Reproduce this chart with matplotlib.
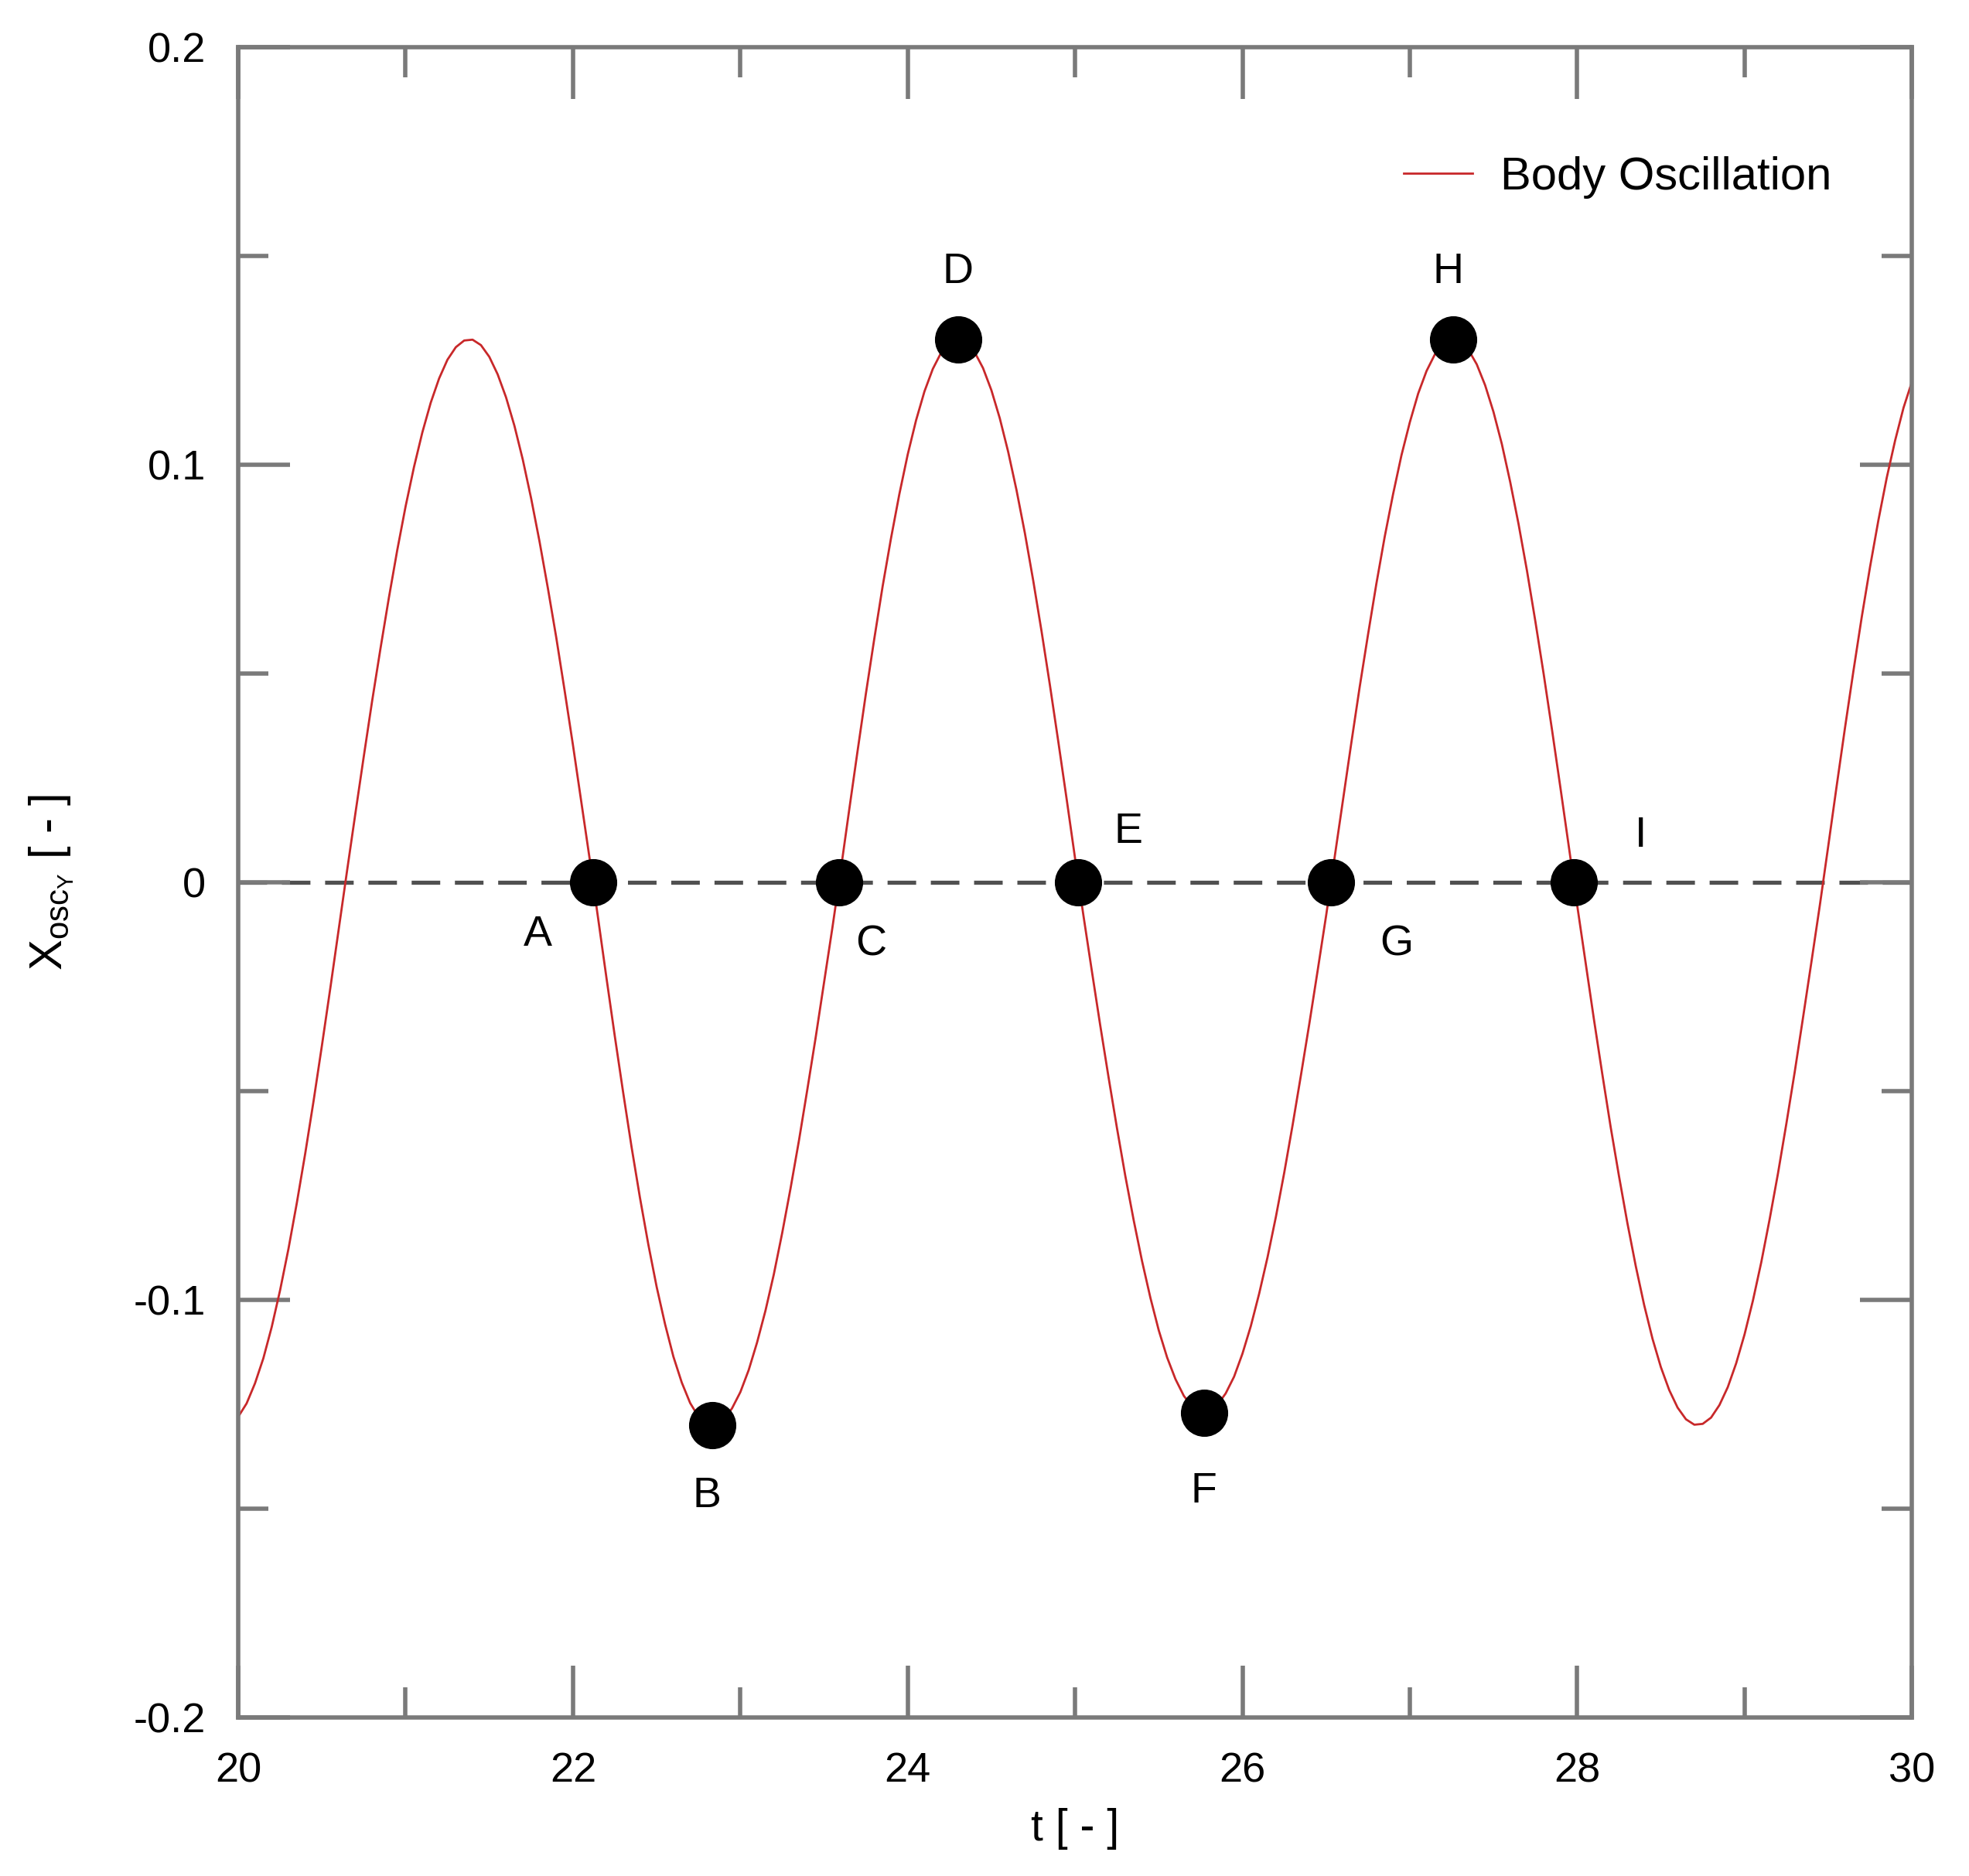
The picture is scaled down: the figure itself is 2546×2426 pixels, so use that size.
import numpy as np
import matplotlib
matplotlib.use("Agg")
import matplotlib.pyplot as plt
from matplotlib.ticker import MultipleLocator, FixedLocator, FixedFormatter

plt.rcParams['font.family'] = ['Liberation Sans', 'DejaVu Sans']
plt.rcParams['mathtext.fontset'] = 'custom'
plt.rcParams['mathtext.rm'] = 'Liberation Sans'
plt.rcParams['mathtext.it'] = 'Liberation Sans'

# sampled time (every 0.05)
t = np.linspace(20.0, 30.0, 201)
# body oscillation values
x_osc = [
    -0.1280, -0.1248, -0.1200, -0.1140, -0.1065, -0.0977, -0.0878, -0.0768, -0.0650, -0.0524,
    -0.0391, -0.0254, -0.0113, 0.0027, 0.0165, 0.0301, 0.0434, 0.0560, 0.0681, 0.0795,
    0.0900, 0.0994, 0.1077, 0.1148, 0.1206, 0.1251, 0.1281, 0.1297, 0.1299, 0.1286,
    0.1258, 0.1216, 0.1161, 0.1093, 0.1012, 0.0919, 0.0816, 0.0704, 0.0586, 0.0459,
    0.0328, 0.0192, 0.0055, -0.0086, -0.0229, -0.0369, -0.0504, -0.0634, -0.0755, -0.0867,
    -0.0969, -0.1058, -0.1136, -0.1198, -0.1247, -0.1280, -0.1297, -0.1299, -0.1287, -0.1260,
    -0.1221, -0.1168, -0.1102, -0.1026, -0.0939, -0.0840, -0.0733, -0.0619, -0.0497, -0.0372,
    -0.0241, -0.0109, 0.0029, 0.0172, 0.0313, 0.0451, 0.0582, 0.0708, 0.0823, 0.0929,
    0.1024, 0.1106, 0.1175, 0.1229, 0.1268, 0.1292, 0.1300, 0.1292, 0.1269, 0.1231,
    0.1178, 0.1111, 0.1031, 0.0939, 0.0836, 0.0722, 0.0600, 0.0471, 0.0336, 0.0198,
    0.0057, -0.0080, -0.0212, -0.0342, -0.0467, -0.0588, -0.0703, -0.0809, -0.0907, -0.0995,
    -0.1073, -0.1138, -0.1190, -0.1230, -0.1256, -0.1269, -0.1267, -0.1252, -0.1224, -0.1184,
    -0.1129, -0.1063, -0.0985, -0.0898, -0.0801, -0.0695, -0.0581, -0.0461, -0.0338, -0.0210,
    -0.0080, 0.0057, 0.0195, 0.0332, 0.0466, 0.0592, 0.0714, 0.0827, 0.0929, 0.1022,
    0.1101, 0.1170, 0.1224, 0.1264, 0.1289, 0.1300, 0.1295, 0.1275, 0.1240, 0.1190,
    0.1126, 0.1049, 0.0958, 0.0857, 0.0746, 0.0625, 0.0498, 0.0364, 0.0226, 0.0085,
    -0.0055, -0.0192, -0.0328, -0.0459, -0.0586, -0.0704, -0.0816, -0.0919, -0.1012, -0.1093,
    -0.1161, -0.1216, -0.1258, -0.1286, -0.1299, -0.1297, -0.1282, -0.1252, -0.1209, -0.1152,
    -0.1083, -0.1002, -0.0910, -0.0807, -0.0697, -0.0578, -0.0454, -0.0323, -0.0190, -0.0055,
    0.0086, 0.0229, 0.0369, 0.0504, 0.0634, 0.0755, 0.0867, 0.0969, 0.1058, 0.1136,
    0.1198,
]

# marked points
pt_names = ['A', 'B', 'C', 'D', 'E', 'F', 'G', 'H', 'I']
pt_t = [22.12, 22.83, 23.59, 24.30, 25.02, 25.77, 26.53, 27.26, 27.98]
pt_x = [0.0, -0.130, 0.0, 0.130, 0.0, -0.127, 0.0, 0.130, 0.0]
# label anchor positions (data coords)
lab_t = [21.79, 22.80, 23.78, 24.30, 25.32, 25.77, 26.92, 27.23, 28.38]
lab_x = [-0.0127, -0.147, -0.015, 0.146, 0.012, -0.146, -0.015, 0.146, 0.011]

x_ticks = [20, 22, 24, 26, 28, 30]
x_ticklabels = ['20', '22', '24', '26', '28', '30']
y_ticks = [-0.2, -0.1, 0.0, 0.1, 0.2]
y_ticklabels = ['-0.2', '-0.1', '0', '0.1', '0.2']

fig = plt.figure(figsize=(25.46, 24.26), dpi=100)
ax = fig.add_axes([0.121, 0.0845, 0.850, 0.8905])

ax.axhline(0.0, color='#505050', lw=3.8, dashes=(7, 3.6), zorder=1)
ax.plot(t, x_osc, color='#c8282a', lw=2.0, label='Body Oscillation', zorder=2)
ax.plot(pt_t, pt_x, 'o', color='black', ms=43, zorder=3)
for n, lt, lx in zip(pt_names, lab_t, lab_x):
    ax.text(lt, lx, n, fontsize=40, ha='center', va='center', zorder=4)

ax.set_xlim(20, 30)
ax.set_ylim(-0.2, 0.2)
ax.xaxis.set_major_locator(FixedLocator(x_ticks))
ax.xaxis.set_major_formatter(FixedFormatter(x_ticklabels))
ax.xaxis.set_minor_locator(MultipleLocator(1))
ax.yaxis.set_major_locator(FixedLocator(y_ticks))
ax.yaxis.set_major_formatter(FixedFormatter(y_ticklabels))
ax.yaxis.set_minor_locator(MultipleLocator(0.05))

spine_col = '#7a7a7a'
for s in ax.spines.values():
    s.set_color(spine_col)
    s.set_linewidth(4.0)
ax.tick_params(which='both', direction='in', top=True, right=True,
               color=spine_col, width=4.0, labelsize=39)
ax.tick_params(which='major', length=48)
ax.tick_params(axis='x', which='major', pad=32)
ax.tick_params(axis='y', which='major', pad=30)
ax.tick_params(which='minor', length=28)

ax.set_xlabel('t [ - ]', fontsize=41, labelpad=16)
ax.set_ylabel(r'X$_{osc_{Y}}$ [ - ]', fontsize=43, labelpad=54)

ax.legend(loc='center right', bbox_to_anchor=(0.977, 0.922), frameon=False,
          fontsize=43, handlelength=1.5, handletextpad=0.6)

fig.savefig('out.png', dpi=100)
